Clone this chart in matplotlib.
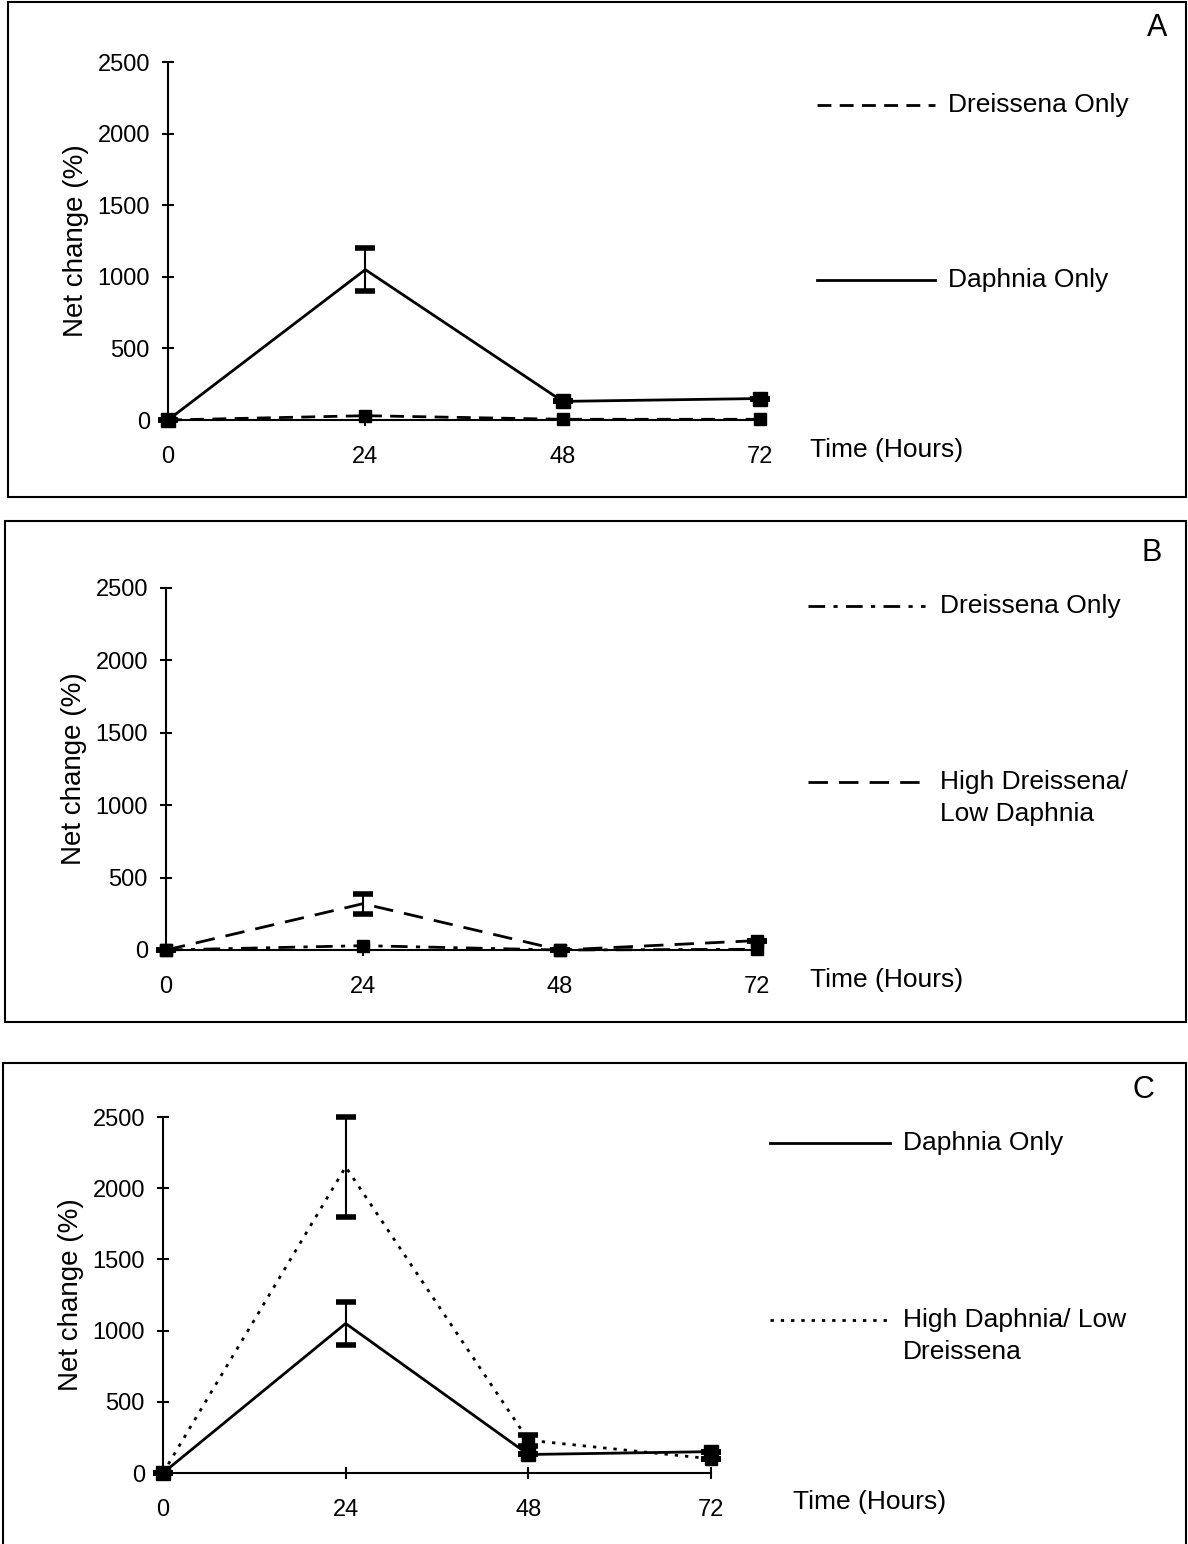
import matplotlib
matplotlib.use("Agg")
import matplotlib.pyplot as plt
from matplotlib.lines import Line2D
from matplotlib.patches import Rectangle

plt.rcParams['font.family'] = ['Liberation Sans', 'DejaVu Sans']

W, H = 1188, 1544

# data
hours = [0, 24, 48, 72]
y_ticks = [0, 500, 1000, 1500, 2000, 2500]

a_dreissena = [0, 30, 5, 5]
a_daphnia = [0, 1050, 130, 150]
a_daphnia_err = [0, 150, 0, 0]

b_dreissena = [0, 30, 0, 5]
b_high_dreissena = [0, 320, 0, 65]
b_high_dreissena_err = [0, 70, 0, 0]

c_daphnia = [0, 1050, 130, 150]
c_daphnia_err = [0, 150, 0, 0]
c_high_daphnia = [0, 2150, 230, 100]
c_high_daphnia_err = [0, 350, 40, 0]

TICK_FS = 17
FS = 19
LW = 2.0

fig = plt.figure(figsize=(W / 100, H / 100), dpi=100)


def px_rect(left, top, right, bottom):
    return [left / W, 1 - bottom / H, (right - left) / W, (bottom - top) / H]


def fx(x):
    return x / W


def fy(y):
    return 1 - y / H


def make_axes(left, top, right, bottom):
    ax = fig.add_axes(px_rect(left, top, right, bottom))
    ax.set_xlim(0, 72)
    ax.set_ylim(0, 2500)
    ax.set_xticks(hours)
    ax.set_yticks(y_ticks)
    for s in ['top', 'right']:
        ax.spines[s].set_visible(False)
    for s in ['left', 'bottom']:
        ax.spines[s].set_linewidth(1.5)
    ax.tick_params(direction='inout', length=8, width=1.5, labelsize=TICK_FS)
    ax.tick_params(axis='x', pad=15)
    ax.tick_params(axis='y', pad=9)
    ax.set_ylabel('Net change (%)', fontsize=20, labelpad=6)
    ax.patch.set_visible(False)
    return ax


def series(ax, y, yerr=None, **kw):
    ax.errorbar(hours, y, yerr=yerr, color='black', lw=LW, marker='s',
                ms=kw.pop('ms', 9), capsize=7, capthick=4, elinewidth=1.5,
                clip_on=False, zorder=3, **kw)


def legend_entry(x0, x1, y, text, ls, tx, extra=None):
    fig.add_artist(Line2D([fx(x0), fx(x1)], [fy(y), fy(y)], color='black',
                          lw=LW, ls=ls))
    fig.text(fx(tx), fy(y), text, fontsize=FS, va='center', ha='left')
    if extra:
        fig.text(fx(tx), fy(y + 32), extra, fontsize=FS, va='center', ha='left')


def box(left, top, right, bottom):
    fig.add_artist(Rectangle((fx(left), fy(bottom)), fx(right - left),
                             (bottom - top) / H, fill=False, lw=1.5,
                             ec='black'))


# Panel A
box(8, 2, 1186, 497)
ax = make_axes(168, 62, 760, 420)
series(ax, a_dreissena, ls=(0, (5, 3)), ms=8)
series(ax, a_daphnia, yerr=a_daphnia_err, ms=10, markevery=[0, 2, 3])
fig.text(fx(810), fy(450), 'Time (Hours)', fontsize=FS, va='center')
legend_entry(817, 935, 105, 'Dreissena Only', (0, (5, 3)), 948)
legend_entry(817, 935, 280, 'Daphnia Only', '-', 948)
fig.text(fx(1157), fy(28), 'A', fontsize=22, ha='center', va='center')

# Panel B
box(5, 521, 1186, 1022)
ax = make_axes(166, 588, 757, 950)
series(ax, b_dreissena, ls=(0, (6, 3, 1.5, 3)), ms=8)
series(ax, b_high_dreissena, yerr=b_high_dreissena_err, ls=(0, (7, 4)), ms=8,
       markevery=[0, 2, 3])
fig.text(fx(810), fy(980), 'Time (Hours)', fontsize=FS, va='center')
legend_entry(808, 925, 606, 'Dreissena Only', (0, (6, 3, 1.5, 3)), 940)
legend_entry(808, 925, 782, 'High Dreissena/', (0, (7, 4)), 940, 'Low Daphnia')
fig.text(fx(1152), fy(553), 'B', fontsize=22, ha='center', va='center')

# Panel C
box(3, 1063, 1186, 1560)
ax = make_axes(163, 1117, 711, 1473)
series(ax, c_daphnia, yerr=c_daphnia_err, ms=10, markevery=[0, 2, 3])
series(ax, c_high_daphnia, yerr=c_high_daphnia_err, ls=(0, (1.2, 2.5)), ms=9,
       markevery=[0, 2, 3])
fig.text(fx(793), fy(1502), 'Time (Hours)', fontsize=FS, va='center')
legend_entry(770, 890, 1143, 'Daphnia Only', '-', 903)
legend_entry(770, 890, 1320, 'High Daphnia/ Low', (0, (1.2, 2.5)), 903,
             'Dreissena')
fig.text(fx(1143), fy(1090), 'C', fontsize=22, ha='center', va='center')

fig.savefig('out.png', dpi=100)
